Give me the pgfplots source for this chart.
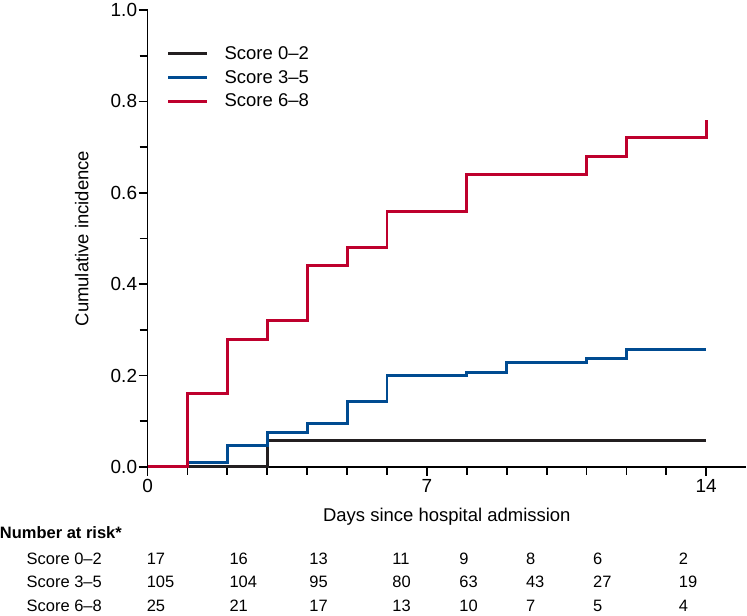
\documentclass[border=0pt]{standalone}
\usepackage{fontspec}
\setmainfont{Liberation Sans}
\usepackage{pgfplots}
\pgfplotsset{compat=1.18}

\definecolor{scoreblack}{RGB}{35,31,32}
\definecolor{scoreblue}{RGB}{0,75,145}
\definecolor{scorered}{RGB}{190,0,45}

\tikzset{
  risk/.style={anchor=base west, inner sep=0pt, text depth=0pt,
    font=\fontsize{16.5}{20}\selectfont},
}

\begin{document}
\begin{tikzpicture}[font=\fontsize{18.5}{22}\selectfont]
\begin{axis}[
  scale only axis, width=599.4pt, height=457.6pt,
  xmin=0, xmax=15, ymin=0, ymax=1,
  axis lines*=left,
  axis line style={line width=1.8pt, black},
  clip=false,
  xtick={0,7,14}, xticklabels={0,7,14},
  minor xtick={1,2,3,4,5,6,8,9,10,11,12,13},
  ytick={0,0.2,0.4,0.6,0.8,1}, yticklabels={0.0,0.2,0.4,0.6,0.8,1.0},
  minor ytick={0.1,0.3,0.5,0.7,0.9},
  tick align=outside, major tick length=9pt, minor tick length=8pt,
  every tick/.style={line width=1.8pt, black},
  tick label style={font=\fontsize{19}{22}\selectfont},
  yticklabel style={xshift=2pt},
  label style={font=\fontsize{18.5}{22}\selectfont},
  xlabel={Days since hospital admission},
  ylabel={Cumulative incidence},
  xlabel style={at={(axis description cs:0.5,-0.109)}, anchor=center},
  ylabel style={at={(axis description cs:-0.11,0.5)}, anchor=center},
  legend style={at={(axis cs:0.4,0.93)}, anchor=north west, draw=none, fill=none,
    font=\fontsize{18.5}{22}\selectfont, row sep=5.5pt,
    nodes={inner sep=2pt}},
  legend cell align=left,
  legend image code/.code={\draw[#1] (0pt,0pt) -- (39pt,0pt); \path (53pt,0pt);},
  const plot mark left,
]
\addplot[scoreblack, line width=3pt, no marks] coordinates {
  (0,0) (3,0.0588) (14,0.0588)
};
\addlegendentry{Score 0--2}
\addplot[scoreblue, line width=3pt, no marks] coordinates {
  (0,0) (1,0.0095) (2,0.048) (3,0.076) (4,0.095) (5,0.143) (6,0.2)
  (8,0.207) (9,0.228) (11,0.237) (12,0.257) (14,0.257)
};
\addlegendentry{Score 3--5}
\addplot[scorered, line width=3pt, no marks] coordinates {
  (0,0) (1,0.16) (2,0.28) (3,0.32) (4,0.44) (5,0.48) (6,0.56)
  (8,0.64) (11,0.68) (12,0.72) (14,0.76)
};
\addlegendentry{Score 6--8}

% number at risk table
\node[risk, font=\fontsize{16.5}{20}\selectfont\bfseries] at (axis cs:-3.704,-0.1575) {Number at risk*};
\node[risk] at (axis cs:-3.035,-0.2135) {Score 0--2};
\node[risk] at (axis cs:-3.035,-0.2640) {Score 3--5};
\node[risk, text depth=4pt] at (axis cs:-3.035,-0.3160) {Score 6--8};

\node[risk] at (axis cs:-0.025,-0.2135) {17};
\node[risk] at (axis cs:2.05,-0.2135) {16};
\node[risk] at (axis cs:4.05,-0.2135) {13};
\node[risk] at (axis cs:6.13,-0.2135) {11};
\node[risk] at (axis cs:7.81,-0.2135) {9};
\node[risk] at (axis cs:9.48,-0.2135) {8};
\node[risk] at (axis cs:11.16,-0.2135) {6};
\node[risk] at (axis cs:13.31,-0.2135) {2};

\node[risk] at (axis cs:-0.025,-0.2640) {105};
\node[risk] at (axis cs:2.05,-0.2640) {104};
\node[risk] at (axis cs:4.05,-0.2640) {95};
\node[risk] at (axis cs:6.13,-0.2640) {80};
\node[risk] at (axis cs:7.81,-0.2640) {63};
\node[risk] at (axis cs:9.48,-0.2640) {43};
\node[risk] at (axis cs:11.16,-0.2640) {27};
\node[risk] at (axis cs:13.31,-0.2640) {19};

\node[risk] at (axis cs:-0.025,-0.3160) {25};
\node[risk] at (axis cs:2.05,-0.3160) {21};
\node[risk] at (axis cs:4.05,-0.3160) {17};
\node[risk] at (axis cs:6.13,-0.3160) {13};
\node[risk] at (axis cs:7.81,-0.3160) {10};
\node[risk] at (axis cs:9.48,-0.3160) {7};
\node[risk] at (axis cs:11.16,-0.3160) {5};
\node[risk] at (axis cs:13.31,-0.3160) {4};
\end{axis}
\end{tikzpicture}
\end{document}
